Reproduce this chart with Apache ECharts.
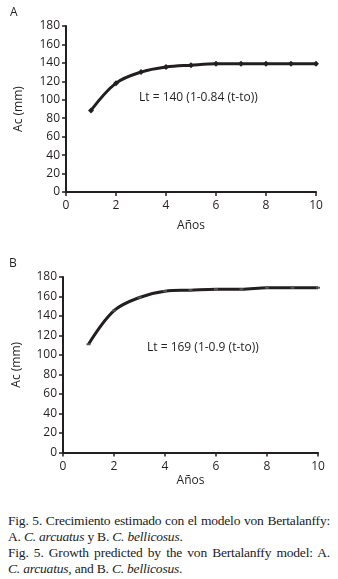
<!DOCTYPE html>
<html><head><meta charset="utf-8">
<script src="https://cdn.jsdelivr.net/npm/echarts@6/dist/echarts.min.js"></script>
<style>
html,body{margin:0;padding:0;background:#fff;}
#chart{position:absolute;left:0;top:0;width:338px;height:500px;}
#cap{position:absolute;left:8px;top:513px;width:322px;font-family:"Liberation Serif","DejaVu Serif",serif;font-size:13.5px;line-height:16px;color:#222;letter-spacing:-0.2px;}
#cap div{white-space:nowrap;}
#cap .j{text-align:justify;text-align-last:justify;}
</style></head>
<body>
<div id="chart"></div>
<div id="cap">
<div class="j">Fig. 5. Crecimiento estimado con el modelo von Bertalanffy:</div>
<div>A. <i>C. arcuatus</i> y B. <i>C. bellicosus</i>.</div>
<div class="j">Fig. 5. Growth predicted by the von Bertalanffy model: A.</div>
<div><i>C. arcuatus</i>, and B. <i>C. bellicosus</i>.</div>
</div>
<script>
var years = [1, 2, 3, 4, 5, 6, 7, 8, 9, 10];
var acA = [88.5, 118, 130, 135.5, 137.5, 139, 139, 139, 139, 139];
var acB = [111, 145.5, 159, 165.5, 166.5, 167.5, 167.5, 169, 169, 169];
var yTicks = [0, 20, 40, 60, 80, 100, 120, 140, 160, 180];
var xTicks = [0, 2, 4, 6, 8, 10];
var panelLabels = ['A', 'B'];
var formulas = ['Lt = 140 (1-0.84 (t-to))', 'Lt = 169 (1-0.9 (t-to))'];
var xName = 'Años', yName = 'Ac (mm)';

var font = '"Open Sans", "Noto Sans", sans-serif';
var ink = '#231f20';
var fs = 12;
function pairs(v){ return years.map(function(x,i){ return [x, v[i]]; }); }
function xAx(gi, gap){
  return {gridIndex:gi, type:'value', min:xTicks[0], max:xTicks[xTicks.length-1], interval:2,
    name:xName, nameLocation:'middle', nameGap:gap, nameTextStyle:{fontFamily:font,fontSize:fs,color:ink},
    axisLine:{lineStyle:{color:ink,width:2}}, axisTick:{show:true,length:4,lineStyle:{color:ink,width:1.5}},
    axisLabel:{fontFamily:font,fontSize:fs,color:ink,margin:8}, splitLine:{show:false}};
}
function yAx(gi, gap){
  return {gridIndex:gi, type:'value', min:yTicks[0], max:yTicks[yTicks.length-1], interval:20,
    name:yName, nameLocation:'middle', nameGap:gap, nameTextStyle:{fontFamily:font,fontSize:fs,color:ink},
    axisLine:{show:true,lineStyle:{color:ink,width:2}}, axisTick:{show:true,length:4,lineStyle:{color:ink,width:1.5}},
    axisLabel:{fontFamily:font,fontSize:fs,color:ink,margin:6}, splitLine:{show:false}};
}
var chart = echarts.init(document.getElementById('chart'), null, {renderer:'canvas'});
chart.setOption({
  animation:false,
  backgroundColor:'#fff',
  grid:[
    {left:66, top:26, width:250, height:166},
    {left:63, top:277, width:255, height:175.5}
  ],
  xAxis:[xAx(0,28), xAx(1,22)],
  yAxis:[yAx(0,41), yAx(1,40)],
  series:[
    {type:'line', xAxisIndex:0, yAxisIndex:0, data:pairs(acA), smooth:0.35,
     symbol:'diamond', symbolSize:6, itemStyle:{color:ink}, lineStyle:{color:ink,width:3}},
    {type:'line', xAxisIndex:1, yAxisIndex:1, data:pairs(acB), smooth:0.35,
     symbol:'rect', symbolSize:[4,2], itemStyle:{color:'#555'}, lineStyle:{color:ink,width:3}}
  ],
  graphic:[
    {type:'text', left:10, top:7, style:{text:panelLabels[0], font:'12px '+font, fill:ink}},
    {type:'text', left:9, top:258, style:{text:panelLabels[1], font:'12px '+font, fill:ink}},
    {type:'text', left:139, top:92, style:{text:formulas[0], font:'12px '+font, fill:ink}},
    {type:'text', left:147, top:342, style:{text:formulas[1], font:'12px '+font, fill:ink}}
  ]
});
</script>
</body></html>
